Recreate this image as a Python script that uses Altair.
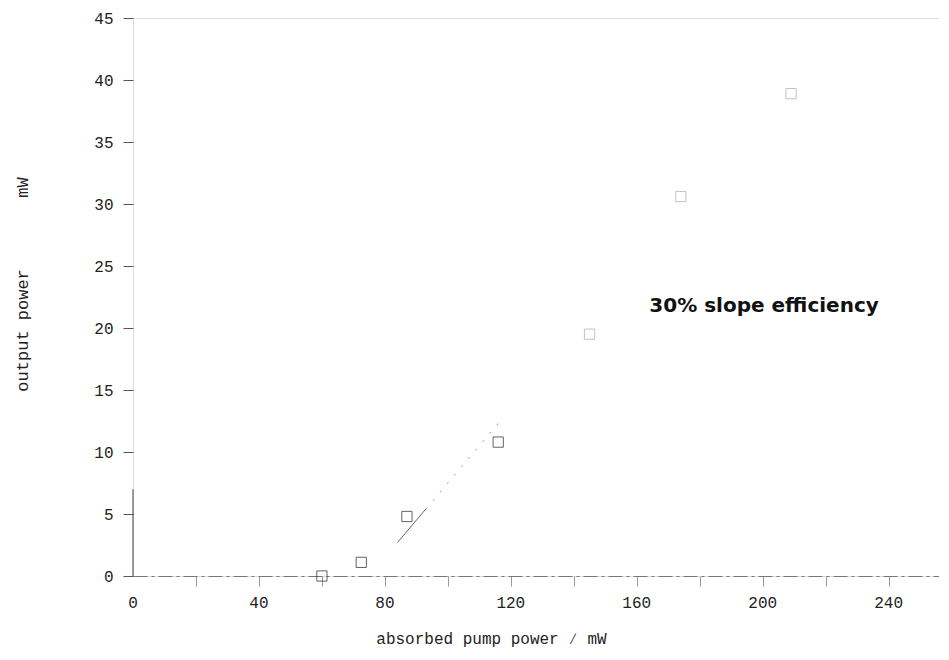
import altair as alt
import pandas as pd

# measured points
pump = [60, 72.5, 87, 116, 145, 174, 209]
output = [0.0, 1.1, 4.8, 10.8, 19.5, 30.6, 38.9]

# slope-efficiency fit line (solid part, dotted part)
fit_solid_x = [84, 93]
fit_solid_y = [2.7, 5.4]
fit_dot_x = [93, 117.5]
fit_dot_y = [5.4, 12.75]

# visible stub of the vertical axis line
stub_y = [0, 7]

x_ticks = [20, 40, 60, 80, 100, 120, 140, 160, 180, 200, 220, 240]
x_labels_at = [0, 40, 80, 120, 160, 200, 240]
y_ticks = [0, 5, 10, 15, 20, 25, 30, 35, 40, 45]

note_text = ["30% slope efficiency"]
note_x = [164]
note_y = [21.8]

pts = pd.DataFrame({"x": pump, "y": output})
fs = pd.DataFrame({"x": fit_solid_x, "y": fit_solid_y})
fd = pd.DataFrame({"x": fit_dot_x, "y": fit_dot_y})
stub = pd.DataFrame({"x": [0, 0], "y": stub_y})
note = pd.DataFrame({"t": note_text, "x": note_x, "y": note_y})
xl = pd.DataFrame({"x": x_labels_at})

xs = alt.Scale(domain=[0, 256], nice=False, zero=False)
ys = alt.Scale(domain=[0, 45], nice=False)

mono = "Liberation Mono"

xax = alt.Axis(values=x_ticks, labels=False,
               title="absorbed pump power ∕ mW", grid=False,
               titleFont=mono, titleFontSize=16, titleFontWeight="normal", titleColor="#222",
               titleX=358, titleY=67, titleBaseline="alphabetic", titleAlign="center",
               domainColor="#777", domainDash=[14, 4, 3, 4], tickColor="#999", tickSize=10)
yax = alt.Axis(values=y_ticks, title="output power\u00a0\u00a0\u00a0\u00a0\u00a0\u00a0 mW", grid=False,
               labelFont=mono, labelFontSize=16, labelColor="#222", labelPadding=10,
               titleFont=mono, titleFontSize=17, titleFontWeight="normal", titleColor="#222",
               titleX=-111, titleY=266, titleBaseline="middle", titleAlign="center",
               domain=False, tickColor="#555", tickSize=10)

base_pts = alt.Chart(pts).mark_point(shape="square", size=105, filled=False, strokeWidth=1).encode(
    x=alt.X("x:Q", scale=xs, axis=xax),
    y=alt.Y("y:Q", scale=ys, axis=yax),
    color=alt.condition("datum.x > 130", alt.value("#aaa"), alt.value("#222")),
)

# x tick labels (every 40) drawn below the axis
xlab = alt.Chart(xl).mark_text(font=mono, fontSize=16, color="#222", baseline="middle", dy=27).encode(
    x=alt.X("x:Q", scale=xs), y=alt.value(558), text=alt.Text("x:Q", format="d"))

stub_line = alt.Chart(stub).mark_line(color="#444", strokeWidth=1).encode(
    x=alt.X("x:Q", scale=xs), y=alt.Y("y:Q", scale=ys))

solid = alt.Chart(fs).mark_line(color="#666", strokeWidth=1).encode(
    x=alt.X("x:Q", scale=xs), y=alt.Y("y:Q", scale=ys))
dotted = alt.Chart(fd).mark_line(color="#999", strokeWidth=1, strokeDash=[2, 9]).encode(
    x=alt.X("x:Q", scale=xs), y=alt.Y("y:Q", scale=ys))

txt = alt.Chart(note).mark_text(align="left", baseline="middle", font="DejaVu Sans",
                                fontSize=20, fontWeight="bold", color="#111").encode(
    x=alt.X("x:Q", scale=xs), y=alt.Y("y:Q", scale=ys), text="t:N")

chart = alt.layer(stub_line, solid, dotted, base_pts, xlab, txt).properties(
    width=806, height=558,
    autosize=alt.AutoSizeParams(type="none"),
    padding={"left": 125, "top": 10, "right": 0, "bottom": 76},
).configure_view(stroke=None).configure(background="white")

chart.save("out.html", embed_options={"renderer": "svg", "actions": False})
